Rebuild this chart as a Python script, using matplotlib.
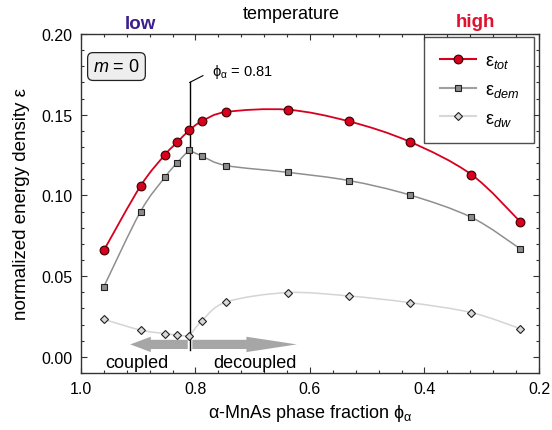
import numpy as np
import matplotlib
matplotlib.use("Agg")
import matplotlib.pyplot as plt
from matplotlib.path import Path
from matplotlib.patches import PathPatch, FancyArrow
from matplotlib.lines import Line2D
from matplotlib.ticker import MultipleLocator, FormatStrFormatter

plt.rcParams['font.family'] = ['Liberation Sans', 'DejaVu Sans']
plt.rcParams['mathtext.fontset'] = 'custom'
plt.rcParams['mathtext.rm'] = 'Liberation Sans'
plt.rcParams['mathtext.it'] = 'Liberation Sans:italic'
plt.rcParams['mathtext.default'] = 'regular'

# alpha-MnAs phase fraction
phi = [0.960, 0.896, 0.853, 0.832, 0.811, 0.789, 0.746, 0.639, 0.532, 0.426, 0.318, 0.233]
# normalized energy densities
eps_tot = [0.0660, 0.1058, 0.1253, 0.1329, 0.1403, 0.1459, 0.1517, 0.1531, 0.1459, 0.1333, 0.1129, 0.0838]
eps_dem = [0.0435, 0.0900, 0.1114, 0.1203, 0.1281, 0.1244, 0.1185, 0.1143, 0.1092, 0.1003, 0.0864, 0.0670]
eps_dw = [0.0232, 0.0166, 0.0144, 0.0135, 0.0127, 0.0222, 0.0340, 0.0398, 0.0377, 0.0336, 0.0274, 0.0175]
phi_c = 0.81
i_c = 4  # index of the coupling point

red = '#d7001e'
purple = '#3b1f8e'


def smooth_path(x, y):
    # catmull-rom through the points, drawn as cubic bezier segments
    p = np.column_stack([x, y])
    pe = np.vstack([p[0], p, p[-1]])
    verts = [p[0]]
    codes = [Path.MOVETO]
    for i in range(len(p) - 1):
        p0, p1, p2, p3 = pe[i], pe[i + 1], pe[i + 2], pe[i + 3]
        verts += [p1 + (p2 - p0) / 6, p2 - (p3 - p1) / 6, p2]
        codes += [Path.CURVE4] * 3
    return Path(verts, codes)


def draw_curve(ax, x, y, color, lw, split=None):
    parts = [(x, y)] if split is None else [(x[:split + 1], y[:split + 1]), (x[split:], y[split:])]
    for xs, ys in parts:
        ax.add_patch(PathPatch(smooth_path(xs, ys), fc='none', ec=color, lw=lw, zorder=2))


fig = plt.figure(figsize=(5.52, 4.31), dpi=100)
ax = fig.add_axes([0.1467, 0.1323, 0.8297, 0.7865])

draw_curve(ax, phi, eps_dw, '#d4d4d4', 1.1, split=i_c)
draw_curve(ax, phi, eps_dem, '#8f8f8f', 1.1, split=i_c)
draw_curve(ax, phi, eps_tot, red, 1.3)

ax.plot(phi, eps_dw, ls='none', marker='D', ms=4.3, mfc='#d8d8d8', mec='#222222', mew=0.8, zorder=4)
ax.plot(phi, eps_dem, ls='none', marker='s', ms=4.6, mfc='#8c8c8c', mec='#222222', mew=0.8, zorder=4)
ax.plot(phi, eps_tot, ls='none', marker='o', ms=6.3, mfc=red, mec='#3a0000', mew=0.8, zorder=5)

# transition marker
ax.plot([phi_c, phi_c], [0.004, 0.1700], color='black', lw=1.0, zorder=3)
ax.plot([phi_c, 0.787], [0.1700, 0.1742], color='black', lw=0.8, zorder=3)
ax.text(0.771, 0.1768, 'ϕ$_α$ = 0.81', fontsize=10.5, va='center', ha='left')

# coupled / decoupled arrows
ax.add_patch(FancyArrow(0.8135, 0.0077, 0.1005, 0, width=0.0057, head_width=0.0095,
                        head_length=0.036, length_includes_head=True, fc='#a6a6a6', ec='none', zorder=3))
ax.add_patch(FancyArrow(0.8055, 0.0077, -0.1825, 0, width=0.0057, head_width=0.0095,
                        head_length=0.088, length_includes_head=True, fc='#a6a6a6', ec='none', zorder=3))
ax.text(0.902, -0.0035, 'coupled', fontsize=13, ha='center', va='center')
ax.text(0.697, -0.0035, 'decoupled', fontsize=13, ha='center', va='center')

ax.text(0.0775, 0.904, '$\\mathit{m}$ = 0', transform=ax.transAxes, fontsize=13, ha='center', va='center',
        bbox=dict(boxstyle='round,pad=0.3,rounding_size=0.3', fc='#eeeeee', ec='#222222', lw=0.9))

ax.set_xlim(1.0, 0.2)
ax.set_ylim(-0.01, 0.20)
ax.xaxis.set_major_locator(MultipleLocator(0.2))
ax.xaxis.set_minor_locator(MultipleLocator(0.04))
ax.yaxis.set_major_locator(MultipleLocator(0.05))
ax.yaxis.set_minor_locator(MultipleLocator(0.01))
ax.xaxis.set_major_formatter(FormatStrFormatter('%.1f'))
ax.yaxis.set_major_formatter(FormatStrFormatter('%.2f'))
ax.tick_params(which='both', direction='in', top=True, right=True, labelsize=11.5, color='#333333')
ax.tick_params(which='major', length=4, width=0.8, pad=6)
ax.tick_params(which='minor', length=2.5, width=0.8)
for s in ax.spines.values():
    s.set_color('#333333')
    s.set_linewidth(1.0)

ax.set_xlabel('α-MnAs phase fraction ϕ$_α$', fontsize=13, labelpad=4)
ax.set_ylabel('normalized energy density ε', fontsize=13.5, labelpad=8)

fig.text(0.527, 0.967, 'temperature', fontsize=13, ha='center', va='center')
fig.text(0.255, 0.944, 'low', fontsize=13.5, fontweight='bold', color=purple, ha='center', va='center')
fig.text(0.861, 0.947, 'high', fontsize=13.5, fontweight='bold', color='#e0102f', ha='center', va='center')

handles = [
    Line2D([], [], color=red, lw=1.5, marker='o', ms=6.3, mfc=red, mec='#3a0000', mew=0.8),
    Line2D([], [], color='#a0a0a0', lw=1.5, marker='s', ms=4.6, mfc='#8c8c8c', mec='#222222', mew=0.8),
    Line2D([], [], color='#d8d8d8', lw=1.5, marker='D', ms=4.3, mfc='#d8d8d8', mec='#222222', mew=0.8),
]
labels = ['ε$_{\\mathit{tot}}$', 'ε$_{\\mathit{dem}}$', 'ε$_{\\mathit{dw}}$']
leg = ax.legend(handles, labels, loc='upper right', bbox_to_anchor=(0.99, 0.992), fontsize=13,
                frameon=True, fancybox=False, handlelength=2.0, handletextpad=0.5,
                borderpad=0.85, labelspacing=0.6, borderaxespad=0)
leg.get_frame().set_edgecolor('#222222')
leg.get_frame().set_linewidth(1.0)

fig.savefig('out.png', dpi=100)
